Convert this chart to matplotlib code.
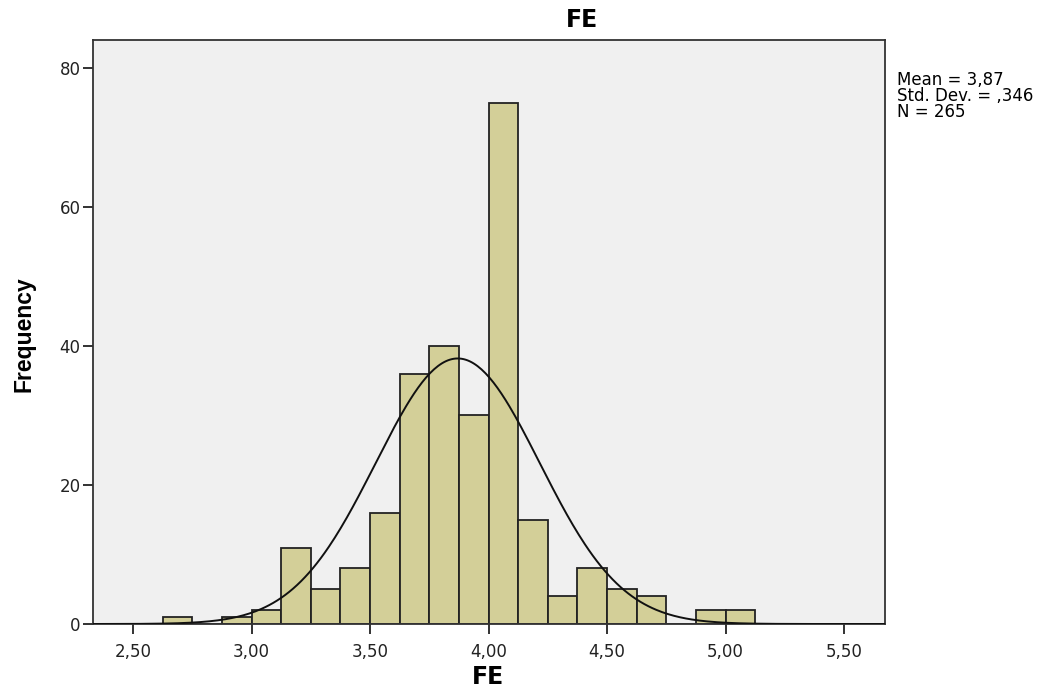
import numpy as np
import matplotlib
matplotlib.use("Agg")
import matplotlib.pyplot as plt

# histogram bins (width 0,125) and counts
bin_edges = [2.625, 2.75, 2.875, 3.0, 3.125, 3.25, 3.375, 3.5, 3.625, 3.75,
             3.875, 4.0, 4.125, 4.25, 4.375, 4.5, 4.625, 4.75, 4.875, 5.0, 5.125]
counts = [1, 0, 1, 2, 11, 5, 8, 16, 36, 40, 30, 75, 15, 4, 8, 5, 4, 0, 2, 2]

mean = 3.87
std = 0.346
n_obs = 265

x_ticks = [2.5, 3.0, 3.5, 4.0, 4.5, 5.0, 5.5]
x_labels = ["2,50", "3,00", "3,50", "4,00", "4,50", "5,00", "5,50"]
y_ticks = [0, 20, 40, 60, 80]

plt.rcParams['font.family'] = ['DejaVu Sans']

fig = plt.figure(figsize=(10.52, 6.96), dpi=100)
ax = fig.add_axes([93/1052, 1 - 624/696, (885 - 93)/1052, (624 - 40)/696])
ax.set_facecolor('#f0f0f0')

widths = np.diff(bin_edges)
ax.bar(bin_edges[:-1], counts, width=widths, align='edge',
       color='#d3cf98', edgecolor='#222222', linewidth=1.3, zorder=2)

# normal curve scaled to counts
bw = widths[0]
xs = np.linspace(2.33, 5.67, 400)
ys = n_obs * bw / (std * np.sqrt(2 * np.pi)) * np.exp(-0.5 * ((xs - mean) / std) ** 2)
ax.plot(xs, ys, color='#111111', linewidth=1.4, zorder=3)

ax.set_xlim(2.331, 5.673)
ax.set_ylim(0, 84)
ax.set_xticks(x_ticks)
ax.set_xticklabels(x_labels)
ax.set_yticks(y_ticks)
ax.tick_params(axis='both', direction='out', length=7, width=1.3,
               labelsize=12, colors='#222222')
ax.tick_params(axis='x', pad=7)
ax.tick_params(axis='y', pad=2)
for s in ax.spines.values():
    s.set_color('#333333')
    s.set_linewidth(1.3)

fig.text(582/1052, 1 - 20/696, "FE", ha='center', va='center',
         fontsize=17, fontweight='bold')
fig.text(488/1052, 1 - 677/696, "FE", ha='center', va='center',
         fontsize=17, fontweight='bold')
fig.text(24/1052, 1 - 334/696, "Frequency", ha='center', va='center',
         rotation=90, fontsize=16.5, fontweight='bold',
         family=['Liberation Sans', 'DejaVu Sans'])

stats = f"Mean = 3,87\nStd. Dev. = ,346\nN = {n_obs}"
fig.text(897/1052, 1 - 71/696, stats, ha='left', va='top',
         fontsize=12, linespacing=0.87)

fig.savefig("out.png", dpi=100)
